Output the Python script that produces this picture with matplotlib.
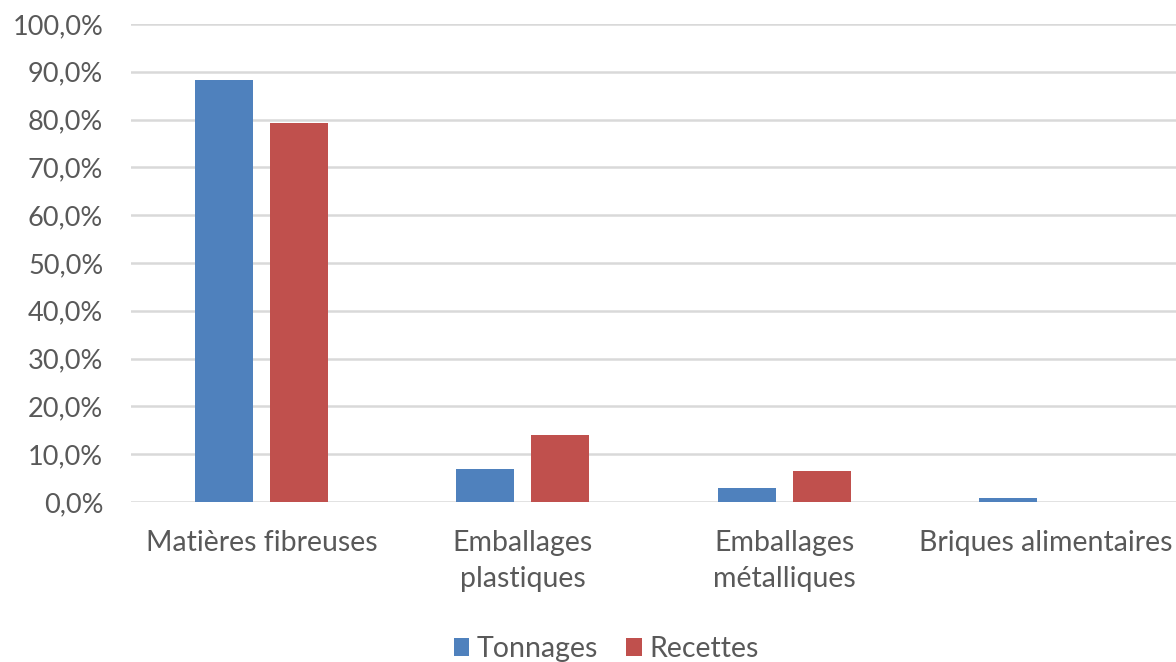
import matplotlib
matplotlib.use("Agg")
import matplotlib.pyplot as plt
from matplotlib.ticker import FuncFormatter
import numpy as np

categories = ["Matières fibreuses", "Emballages\nplastiques", "Emballages\nmétalliques", "Briques alimentaires"]
tonnages = [88.3, 7.0, 2.9, 0.8]
recettes = [79.3, 14.0, 6.4, 0.0]
series_names = ["Tonnages", "Recettes"]
colors = ["#4f81bd", "#c0504d"]

plt.rcParams['font.family'] = ['Lato', 'DejaVu Sans']
text_color = "#595959"

fig = plt.figure(figsize=(11.76, 6.62), dpi=100)
ax = fig.add_axes([131/1176, 1 - 502/662, 1 - 131/1176, (502 - 24)/662])

x = np.arange(len(categories))
w = 0.222
off = 0.144
b1 = ax.bar(x - off, tonnages, w, color=colors[0], label=series_names[0], zorder=3)
b2 = ax.bar(x + off, recettes, w, color=colors[1], label=series_names[1], zorder=3)

ax.set_xlim(-0.5, len(categories) - 0.5)
ax.set_ylim(0, 100)
ax.set_yticks(np.arange(0, 101, 10))
ax.yaxis.set_major_formatter(FuncFormatter(lambda v, p: f"{v:.1f}".replace(".", ",") + "%"))
ax.grid(axis='y', color="#d9d9d9", linewidth=1.8, zorder=0)
ax.set_axisbelow(True)
for s in ax.spines.values():
    s.set_visible(False)
ax.tick_params(axis='both', length=0, colors=text_color)
ax.tick_params(axis='y', pad=20, labelsize=19.5)
ax.tick_params(axis='x', pad=20, labelsize=20.5)
ax.set_xticks(x)
ax.set_xticklabels(categories, linespacing=1.5)
for t in ax.get_xticklabels() + ax.get_yticklabels():
    t.set_color(text_color)

leg = fig.legend(handles=[b1, b2], labels=series_names, loc='center', bbox_to_anchor=(606/1176, 1 - 649/662),
                 ncol=2, frameon=False, fontsize=20.5, handlelength=0.55, handleheight=0.55,
                 handletextpad=0.25, columnspacing=1.0, labelcolor=text_color)

fig.savefig("out.png", dpi=100)
